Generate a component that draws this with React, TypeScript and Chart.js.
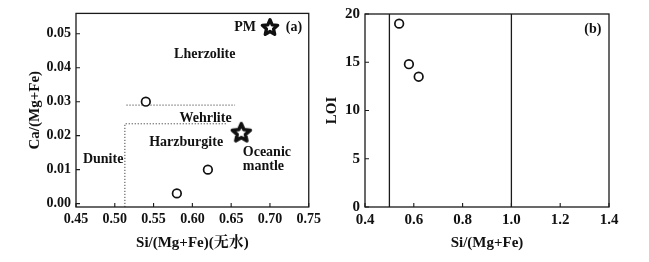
import React, { useEffect, useRef } from "react";
import { Chart, registerables } from "chart.js";
Chart.register(...registerables);

// ---- Panel (a) data ----
const sampleSiA = [0.54, 0.58, 0.62];
const sampleCa = [0.03, 0.003, 0.01];
const refSi = [0.7, 0.663];
const refCa = [0.052, 0.021];
const wehrliteLineX = [0.515, 0.655];
const wehrliteLineY = [0.029, 0.029];
const harzLineX = [0.513, 0.513, 0.645];
const harzLineY = [-0.001, 0.0235, 0.0235];
const xTicksA = [0.45, 0.5, 0.55, 0.6, 0.65, 0.7, 0.75];
const yTicksA = [0, 0.01, 0.02, 0.03, 0.04, 0.05];
const fieldLabels = ["Lherzolite", "Wehrlite", "Harzburgite", "Dunite", "PM", "(a)"];
const fieldLabelX = [0.616, 0.617, 0.592, 0.485, 0.668, 0.731];
const fieldLabelY = [0.044, 0.0251, 0.018, 0.0131, 0.052, 0.052];
const oceanicLabel = ["Oceanic", "mantle"];
const oceanicLabelX = [0.665, 0.665];
const oceanicLabelY = [0.0151, 0.0111];

// ---- Panel (b) data ----
const sampleSiB = [0.54, 0.58, 0.62];
const sampleLOI = [19, 14.8, 13.5];
const boundaryX = [0.5, 1.0];
const loiRange = [0, 20];
const xTicksB = [0.4, 0.6, 0.8, 1.0, 1.2, 1.4];
const yTicksB = [0, 5, 10, 15, 20];
const panelBLabel = ["(b)"];
const panelBLabelX = [1.334];
const panelBLabelY = [18.4];

const FONT = "'Liberation Serif', 'Noto Serif CJK SC', 'Noto Sans CJK SC', serif";

function makeStar(size: number, lw: number) {
  const c = document.createElement("canvas");
  c.width = size;
  c.height = size;
  const ctx = c.getContext("2d")!;
  const cx = size / 2, cy = size / 2 + 0.8;
  const R = size / 2 - lw / 2 - 0.3;
  const r = R * 0.46;
  ctx.beginPath();
  for (let i = 0; i < 10; i++) {
    const ang = -Math.PI / 2 + (i * Math.PI) / 5;
    const rad = i % 2 === 0 ? R : r;
    const x = cx + rad * Math.cos(ang);
    const y = cy + rad * Math.sin(ang);
    if (i === 0) ctx.moveTo(x, y);
    else ctx.lineTo(x, y);
  }
  ctx.closePath();
  ctx.fillStyle = "#fff";
  ctx.fill();
  ctx.lineWidth = lw;
  ctx.lineJoin = "round";
  ctx.strokeStyle = "#111";
  ctx.stroke();
  return c;
}

const framePlugin = {
  id: "frameTicks",
  afterDraw(chart: any) {
    const { ctx, chartArea: a, scales } = chart;
    ctx.save();
    ctx.strokeStyle = "#1a1a1a";
    ctx.lineWidth = 1.3;
    ctx.strokeRect(a.left, a.top, a.right - a.left, a.bottom - a.top);
    ctx.lineWidth = 1.1;
    ctx.beginPath();
    scales.x.ticks.forEach((t: any) => {
      const px = scales.x.getPixelForValue(t.value);
      ctx.moveTo(px, a.bottom);
      ctx.lineTo(px, a.bottom - 4);
    });
    scales.y.ticks.forEach((t: any) => {
      const py = scales.y.getPixelForValue(t.value);
      ctx.moveTo(a.left, py);
      ctx.lineTo(a.left + 4, py);
    });
    ctx.stroke();
    ctx.restore();
  },
};

const textPlugin = {
  id: "annot",
  afterDraw(chart: any, _args: any, opts: any) {
    const { ctx, scales } = chart;
    ctx.save();
    ctx.fillStyle = "#111";
    ctx.textBaseline = "middle";
    (opts.items || []).forEach((it: any) => {
      ctx.font = `bold ${it.size || 14}px ${FONT}`;
      ctx.textAlign = it.align || "center";
      ctx.fillText(it.text, scales.x.getPixelForValue(it.x), scales.y.getPixelForValue(it.y));
    });
    ctx.restore();
  },
};

function baseScales(opts: {
  xMin: number; xMax: number; yMin: number; yMax: number;
  xTicks: number[]; yTicks: number[]; xDec: number; yDec: number;
  xTitle: string; yTitle: string; yWidth: number; yTitlePad: number; tickSize: number;
}) {
  return {
    x: {
      type: "linear",
      min: opts.xMin,
      max: opts.xMax,
      grid: { display: false, drawTicks: false },
      border: { display: false },
      afterBuildTicks: (s: any) => { s.ticks = opts.xTicks.map((v) => ({ value: v })); },
      afterFit: (s: any) => { s.height = 55; },
      ticks: {
        autoSkip: false, maxRotation: 0, padding: 4, color: "#111",
        font: { family: FONT, size: opts.tickSize, weight: "bold" },
        callback: (v: any) => Number(v).toFixed(opts.xDec),
      },
      title: {
        display: true, text: opts.xTitle, color: "#111",
        font: { family: FONT, size: 15, weight: "bold" },
        padding: { top: 0, bottom: 10 },
      },
    },
    y: {
      type: "linear",
      min: opts.yMin,
      max: opts.yMax,
      grid: { display: false, drawTicks: false },
      border: { display: false },
      afterBuildTicks: (s: any) => { s.ticks = opts.yTicks.map((v) => ({ value: v })); },
      afterFit: (s: any) => { s.width = opts.yWidth; },
      ticks: {
        autoSkip: false, padding: 5, color: "#111",
        font: { family: FONT, size: opts.tickSize, weight: "bold" },
        callback: (v: any) => Number(v).toFixed(opts.yDec),
      },
      title: {
        display: true, text: opts.yTitle, color: "#111",
        font: { family: FONT, size: 15, weight: "bold" },
        padding: { top: opts.yTitlePad, bottom: 0 },
      },
    },
  };
}

export default function App() {
  const refA = useRef<HTMLCanvasElement>(null);
  const refB = useRef<HTMLCanvasElement>(null);

  useEffect(() => {
    const starPM = makeStar(20, 3.3);
    const starOM = makeStar(23, 3.5);

    const itemsA = fieldLabels.map((t, i) => ({ text: t, x: fieldLabelX[i], y: fieldLabelY[i] }))
      .concat(oceanicLabel.map((t, i) => ({ text: t, x: oceanicLabelX[i], y: oceanicLabelY[i], align: "left" } as any)));

    const chartA = new Chart(refA.current!, {
      type: "scatter",
      data: {
        datasets: [
          {
            label: "samples",
            data: sampleSiA.map((x, i) => ({ x, y: sampleCa[i] })),
            pointStyle: "circle", pointRadius: 4.3, borderWidth: 1.7,
            borderColor: "#111", backgroundColor: "#fff",
          },
          {
            label: "reference",
            data: refSi.map((x, i) => ({ x, y: refCa[i] })),
            pointStyle: [starPM, starOM] as any,
          },
          {
            label: "wehrlite",
            data: wehrliteLineX.map((x, i) => ({ x, y: wehrliteLineY[i] })),
            showLine: true, pointRadius: 0, borderColor: "#444", borderWidth: 1, borderDash: [1.2, 1.8],
          },
          {
            label: "harzburgite",
            data: harzLineX.map((x, i) => ({ x, y: harzLineY[i] })),
            showLine: true, pointRadius: 0, borderColor: "#444", borderWidth: 1, borderDash: [1.2, 1.8],
          },
        ],
      } as any,
      options: {
        animation: false,
        responsive: false,
        layout: { padding: { left: 0, top: 10, right: 11, bottom: 0 } },
        plugins: { legend: { display: false }, tooltip: { enabled: false }, annot: { items: itemsA } } as any,
        scales: baseScales({
          xMin: 0.45, xMax: 0.75, yMin: -0.001, yMax: 0.056,
          xTicks: xTicksA, yTicks: yTicksA, xDec: 2, yDec: 2,
          xTitle: "Si/(Mg+Fe)(无水)", yTitle: "Ca/(Mg+Fe)", yWidth: 76, yTitlePad: 26, tickSize: 14,
        }) as any,
      },
      plugins: [framePlugin, textPlugin],
    });

    const itemsB = panelBLabel.map((t, i) => ({ text: t, x: panelBLabelX[i], y: panelBLabelY[i] }));
    const chartB = new Chart(refB.current!, {
      type: "scatter",
      data: {
        datasets: [
          {
            label: "samples",
            data: sampleSiB.map((x, i) => ({ x, y: sampleLOI[i] })),
            pointStyle: "circle", pointRadius: 4.3, borderWidth: 1.7,
            borderColor: "#111", backgroundColor: "#fff",
          },
          ...boundaryX.map((bx) => ({
            label: "boundary " + bx,
            data: loiRange.map((y) => ({ x: bx, y })),
            showLine: true, pointRadius: 0, borderColor: "#1a1a1a", borderWidth: 1.3,
          })),
        ],
      } as any,
      options: {
        animation: false,
        responsive: false,
        layout: { padding: { left: 0, top: 10, right: 40, bottom: 0 } },
        plugins: { legend: { display: false }, tooltip: { enabled: false }, annot: { items: itemsB } } as any,
        scales: baseScales({
          xMin: 0.4, xMax: 1.4, yMin: 0, yMax: 20,
          xTicks: xTicksB, yTicks: yTicksB, xDec: 1, yDec: 0,
          xTitle: "Si/(Mg+Fe)", yTitle: "LOI", yWidth: 45, yTitlePad: 3, tickSize: 15,
        }) as any,
      },
      plugins: [framePlugin, textPlugin],
    });

    return () => {
      chartA.destroy();
      chartB.destroy();
    };
  }, []);

  return (
    <div style={{ position: "fixed", left: 0, top: 0, width: 649, height: 262, background: "#fff" }}>
      <canvas ref={refA} width={325} height={262} style={{ position: "absolute", left: 0, top: 0 }} />
      <canvas ref={refB} width={329} height={262} style={{ position: "absolute", left: 320, top: 0 }} />
    </div>
  );
}
